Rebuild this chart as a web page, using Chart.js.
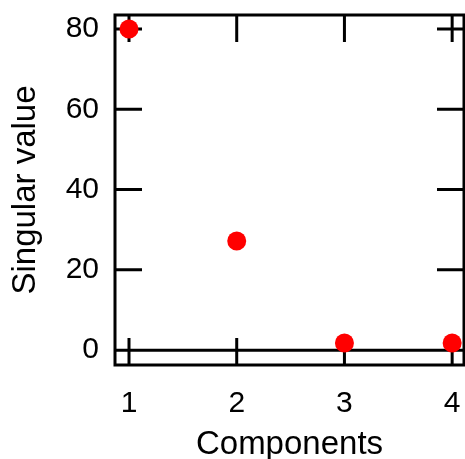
<!DOCTYPE html>
<html>
<head>
<meta charset="utf-8">
<script src="https://cdn.jsdelivr.net/npm/chart.js@4/dist/chart.umd.min.js"></script>
<style>
html,body{margin:0;padding:0;background:#fff;}
#wrap{width:465px;height:459px;position:relative;}
</style>
</head>
<body>
<div id="wrap"><canvas id="c" width="465" height="459"></canvas></div>
<script>
const components = [1, 2, 3, 4];
const singularValues = [80, 27.2, 1.8, 1.8];
const xTicks = [1, 2, 3, 4];
const yTicks = [0, 20, 40, 60, 80];
const xTitle = 'Components';
const yTitle = 'Singular value';

const FONT = "'Liberation Sans', Arial, sans-serif";

const framePlugin = {
  id: 'frame',
  beforeDatasetsDraw(chart) {
    const ctx = chart.ctx;
    const a = chart.chartArea;
    const xs = chart.scales.x, ys = chart.scales.y;
    const L = 27;
    ctx.save();
    ctx.strokeStyle = '#000';
    ctx.lineWidth = 3;
    ctx.lineCap = 'butt';
    ctx.beginPath();
    xTicks.forEach(v => {
      const px = xs.getPixelForValue(v);
      ctx.moveTo(px, a.bottom); ctx.lineTo(px, a.bottom - L);
      ctx.moveTo(px, a.top); ctx.lineTo(px, a.top + L);
    });
    yTicks.forEach(v => {
      const py = ys.getPixelForValue(v);
      ctx.moveTo(a.left, py); ctx.lineTo(a.left + L, py);
      ctx.moveTo(a.right, py); ctx.lineTo(a.right - L, py);
    });
    const zy = ys.getPixelForValue(0);
    ctx.moveTo(a.left, zy); ctx.lineTo(a.right, zy);
    ctx.stroke();
    ctx.strokeRect(a.left, a.top, a.right - a.left, a.bottom - a.top);
    ctx.restore();
  }
};

new Chart(document.getElementById('c'), {
  type: 'scatter',
  data: {
    datasets: [{
      data: components.map((x, i) => ({x: x, y: singularValues[i]})),
      backgroundColor: '#ff0000',
      borderWidth: 0,
      pointRadius: 9.5,
      pointHoverRadius: 9.5,
      clip: false
    }]
  },
  options: {
    responsive: false,
    animation: false,
    events: [],
    layout: {autoPadding: false, padding: {top: 15, right: 1, left: 0, bottom: 0}},
    plugins: {legend: {display: false}, tooltip: {enabled: false}},
    scales: {
      x: {
        type: 'linear',
        min: 0.87, max: 4.11,
        afterBuildTicks(s) { s.ticks = xTicks.map(v => ({value: v})); },
        afterFit(s) { s.height = 94; s.paddingLeft = 0; s.paddingRight = 0; },
        grid: {display: false, drawTicks: false},
        border: {display: false},
        ticks: {color: '#000', font: {family: FONT, size: 30}, padding: 21, maxRotation: 0, autoSkip: false},
        title: {display: true, text: xTitle, color: '#000', font: {family: FONT, size: 33}, padding: {top: 0, bottom: -6}}
      },
      y: {
        type: 'linear',
        min: -3.7, max: 83.5,
        afterBuildTicks(s) { s.ticks = yTicks.map(v => ({value: v})); },
        afterFit(s) { s.width = 115; s.paddingTop = 0; s.paddingBottom = 0; },
        grid: {display: false, drawTicks: false},
        border: {display: false},
        ticks: {color: '#000', font: {family: FONT, size: 30}, padding: 16, autoSkip: false},
        title: {display: true, text: yTitle, color: '#000', font: {family: FONT, size: 33}, padding: {top: 6, bottom: 0}}
      }
    }
  },
  plugins: [framePlugin]
});
</script>
</body>
</html>
